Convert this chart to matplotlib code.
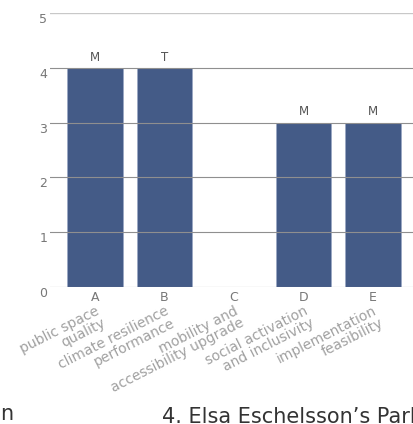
import matplotlib
matplotlib.use("Agg")
import matplotlib.pyplot as plt

letters = ["A", "B", "C", "D", "E"]
criteria = ["public space\nquality", "climate resilience\nperformance",
            "mobility and\naccessibility upgrade", "social activation\nand inclusivity",
            "implementation\nfeasibility"]
values = [4, 4, 0, 3, 3]
grades = ["M", "T", "", "M", "M"]
yticks = [0, 1, 2, 3, 4, 5]

W, H = 414, 424
fig = plt.figure(figsize=(W / 100, H / 100), dpi=100)
ax = fig.add_axes([50 / W, (H - 287) / H, (W - 50) / W, 274 / H])

x = list(range(len(letters)))
bars = ax.bar(x, values, width=0.8, color="#445b87", edgecolor="#9aa8c4",
              linewidth=0.6, zorder=2)
for xi, v, g in zip(x, values, grades):
    if g:
        ax.annotate(g, (xi, v), xytext=(0, 3), textcoords="offset points",
                    ha="center", va="bottom", fontsize=8.5, color="#555555")

ax.set_xlim(-45 / 69.5, (414 - 95) / 69.5)
ax.set_ylim(0, 5)
ax.set_yticks(yticks)
ax.set_yticklabels([str(t) for t in yticks])
for lab in ax.get_yticklabels():
    lab.set_va("top")
ax.tick_params(axis="y", length=0, pad=2, labelsize=9, labelcolor="#777777")
ax.set_xticks(x)
ax.set_xticklabels(letters)
ax.tick_params(axis="x", length=0, pad=3, labelsize=9, labelcolor="#777777")
for s in ax.spines.values():
    s.set_visible(False)
for t in yticks:
    ax.axhline(t, color="#8f8f8f", linewidth=0.8, zorder=3)
ax.axhline(5, color="#c8c8c8", linewidth=0.8, zorder=3)

for xi, c in zip(x, criteria):
    ax.annotate(c, (xi, 0), xytext=(0, -12), textcoords="offset points",
                ha="right", va="top", rotation=27, rotation_mode="anchor",
                multialignment="right", linespacing=0.95,
                fontsize=10, color="#a0a0a0")

fig.text(0 / W, 1 - 420 / H, "n", fontsize=15, color="#333333", ha="left", va="baseline")
fig.text(162 / W, 1 - 423 / H, "4. Elsa Eschelsson\u2019s Park", fontsize=15,
         color="#333333", ha="left", va="baseline")

fig.savefig("out.png", dpi=100)
